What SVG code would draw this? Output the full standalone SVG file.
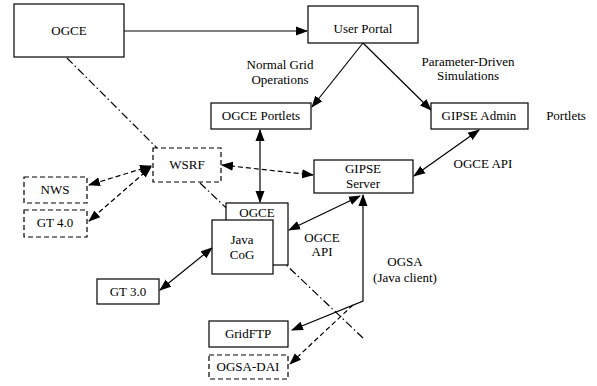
<svg xmlns="http://www.w3.org/2000/svg" width="597" height="386" viewBox="0 0 597 386">
<style>
text{font-family:'Liberation Serif',Tinos,'Times New Roman',Times,'DejaVu Serif','Noto Serif',serif;font-size:13px;fill:#000;text-anchor:middle}
.box{fill:#fff;stroke:#000;stroke-width:1.2}
.dbox{fill:#fff;stroke:#000;stroke-width:1.2;stroke-dasharray:5 3}
.c{fill:none;stroke:#000;stroke-width:1.2}
.d{stroke-dasharray:5 3}
.dd{stroke-dasharray:8 3 1.5 3}
</style>
<defs>
<marker id="ah" markerUnits="userSpaceOnUse" markerWidth="12" markerHeight="10" refX="11" refY="4.5" orient="auto-start-reverse" viewBox="0 0 12 9">
<path d="M0,0 L12,4.5 L0,9 z" fill="#000"/>
</marker>
</defs>
<rect width="597" height="386" fill="#fff"/>
<g id="connectors">
<line class="c" x1="124" y1="31" x2="307" y2="31" marker-end="url(#ah)"/>
<line class="c" x1="363" y1="43" x2="312" y2="107" marker-end="url(#ah)"/>
<line class="c" x1="363" y1="43" x2="431" y2="110" marker-end="url(#ah)"/>
<line class="c" x1="260" y1="130" x2="260" y2="202" marker-start="url(#ah)" marker-end="url(#ah)"/>
<line class="c" x1="479" y1="130" x2="414" y2="176" marker-start="url(#ah)" marker-end="url(#ah)"/>
<line class="c d" x1="222" y1="165" x2="313" y2="175" marker-start="url(#ah)" marker-end="url(#ah)"/>
<line class="c d" x1="151" y1="166" x2="89" y2="185" marker-start="url(#ah)" marker-end="url(#ah)"/>
<line class="c d" x1="151" y1="167" x2="89" y2="221" marker-start="url(#ah)" marker-end="url(#ah)"/>
<line class="c" x1="360" y1="196" x2="289" y2="230" marker-start="url(#ah)" marker-end="url(#ah)"/>
<line class="c" x1="160" y1="290" x2="212" y2="248" marker-start="url(#ah)" marker-end="url(#ah)"/>
<polyline class="c" points="292,330 363,301 363,195" marker-start="url(#ah)" marker-end="url(#ah)"/>
<line class="c d" x1="353" y1="305" x2="290" y2="364" marker-end="url(#ah)"/>
<line class="c dd" x1="67" y1="58" x2="157" y2="148"/>
<line class="c dd" x1="200" y1="183" x2="363" y2="338"/>
</g>
<g id="ogce-top"><rect class="box" x="14" y="4" width="110" height="53"/><text x="69" y="35">OGCE</text></g>
<g id="user-portal"><rect class="box" x="308" y="6" width="110" height="37"/><text x="363" y="33">User Portal</text></g>
<g id="lbl-normal"><text x="280" y="69">Normal Grid</text><text x="280" y="84">Operations</text></g>
<g id="lbl-param"><text x="468" y="66">Parameter-Driven</text><text x="468" y="80">Simulations</text></g>
<g id="ogce-portlets"><rect class="box" x="211" y="103" width="100" height="26"/><text x="261" y="120">OGCE Portlets</text></g>
<g id="gipse-admin"><rect class="box" x="431" y="103" width="97" height="26"/><text x="479" y="120">GIPSE Admin</text></g>
<g id="lbl-portlets"><text x="566" y="120">Portlets</text></g>
<g id="wsrf"><rect class="dbox" x="153" y="148" width="68" height="34"/><text x="187" y="169">WSRF</text></g>
<g id="nws"><rect class="dbox" x="24" y="177" width="63" height="26"/><text x="55" y="194">NWS</text></g>
<g id="gt40"><rect class="dbox" x="24" y="210" width="63" height="27"/><text x="55" y="227">GT 4.0</text></g>
<g id="gipse-server"><rect class="box" x="314" y="160" width="99" height="33"/><text x="363" y="173">GIPSE</text><text x="363" y="188">Server</text></g>
<g id="lbl-ogceapi1"><text x="483" y="168">OGCE API</text></g>
<g id="ogce-back"><rect class="box" x="226" y="203" width="62" height="62"/><text x="257" y="217">OGCE</text></g>
<g id="java-cog"><rect class="box" x="212" y="220" width="61" height="54"/><text x="242" y="244">Java</text><text x="242" y="259">CoG</text></g>
<g id="lbl-ogceapi2"><text x="322" y="242">OGCE</text><text x="322" y="256">API</text></g>
<g id="lbl-ogsa"><text x="405" y="266">OGSA</text><text x="405" y="282">(Java client)</text></g>
<g id="gt30"><rect class="box" x="97" y="279" width="62" height="25"/><text x="128" y="296">GT 3.0</text></g>
<g id="gridftp"><rect class="box" x="209" y="321" width="79" height="26"/><text x="248" y="338">GridFTP</text></g>
<g id="ogsa-dai"><rect class="dbox" x="209" y="355" width="79" height="24"/><text x="248" y="371">OGSA-DAI</text></g>
</svg>
